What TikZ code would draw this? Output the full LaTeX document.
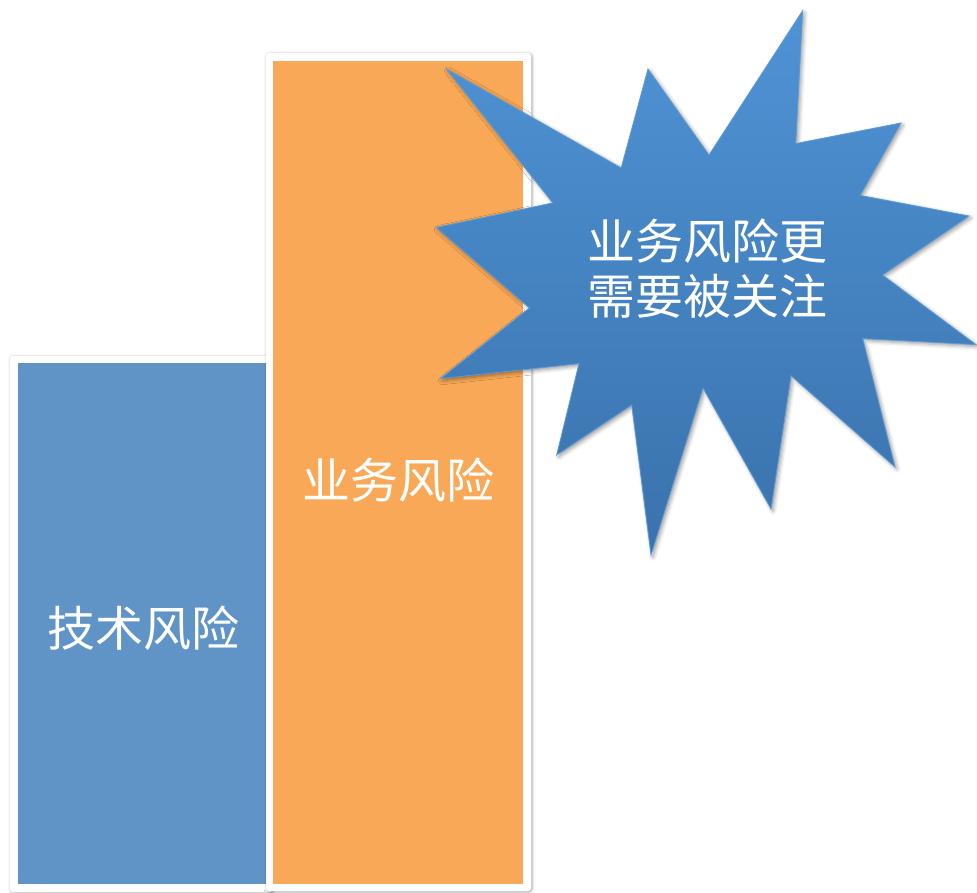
\documentclass[tikz,border=0pt]{standalone}
\usepackage{fontspec}
\newfontfamily\cjk{Noto Sans CJK SC}
\usetikzlibrary{shadows.blur}
\definecolor{barblue}{HTML}{6094C7}
\definecolor{barorange}{HTML}{F8A856}
\definecolor{startop}{HTML}{4F93D5}
\definecolor{starbot}{HTML}{3A72AC}
\definecolor{staredge}{HTML}{5A9BD8}
\begin{document}
\begin{tikzpicture}[x=1pt,y=-1pt,
  frame/.style={fill=white, rounded corners=3pt,
    blur shadow={shadow xshift=1pt, shadow yshift=-1pt, shadow blur radius=3pt, shadow opacity=35}},
  starshape/.style={top color=startop, bottom color=starbot, draw=staredge, line width=0.8pt,
    blur shadow={shadow xshift=2pt, shadow yshift=-2pt, shadow blur radius=4pt, shadow opacity=40}},
  lbl/.style={text=white, font=\cjk\fontsize{48}{55}\selectfont, align=center, inner sep=0pt}]
\useasboundingbox (0,0) rectangle (977,892);
\path[frame] (10,356) rectangle (273,892);
\fill[barblue] (18,363) rectangle (266,884);
\path[frame] (266,53) rectangle (531,891);
\fill[barorange] (273,61) rectangle (523,884);
\path[starshape] (802.6,10.7) -- (795.7,143.6) -- (901,123) -- (860.2,195.4) -- (969,216)
  -- (882.5,275) -- (976,344.6) -- (862.7,338.6) -- (895,467) -- (791,375.7)
  -- (771,509) -- (703,388) -- (651,555) -- (631.7,405) -- (556.7,455)
  -- (579,363.6) -- (440.5,378.6) -- (529.4,307.9) -- (436.3,227.5) -- (552.8,202.9)
  -- (446.4,69) -- (621.2,167.9) -- (648,69) -- (709,155) -- cycle;
\node[lbl] (tech) at (143,628) {技术风险};
\node[lbl] (biz) at (398,480) {业务风险};
\node[lbl] (note) at (707,269) {业务风险更\\需要被关注};
\end{tikzpicture}
\end{document}
